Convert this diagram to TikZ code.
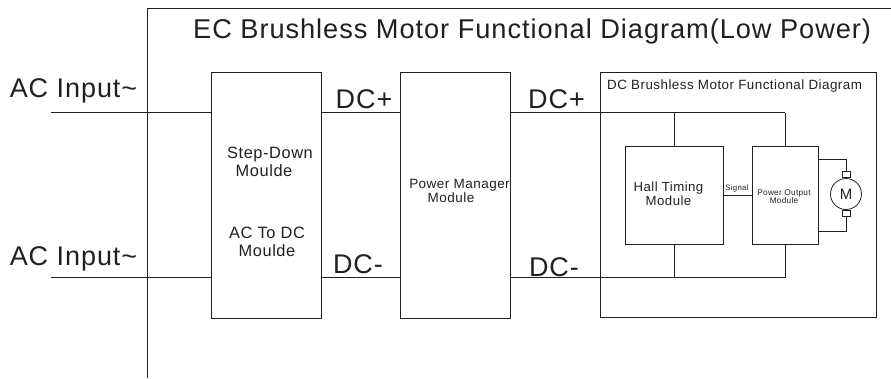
\documentclass[tikz,border=0pt]{standalone}
\usepackage{fontspec}
\setmainfont[LetterSpace=3.5]{Liberation Sans}
\usepackage{xcolor}
\definecolor{inkgray}{HTML}{231F20}
\tikzset{
    modbox/.style={draw=inkgray,line width=0.8pt,minimum width=#1,inner sep=0pt},
    wire/.style={draw=inkgray,line width=0.8pt},
    biglabel/.style={text=inkgray,font=\fontsize{27}{27}\selectfont,inner sep=0pt,anchor=base},
    modlabel/.style={text=inkgray,align=center,font=\fontsize{16.4}{18.5}\selectfont,inner sep=0pt}
}

\begin{document}
\begin{tikzpicture}[x=1pt,y=-1pt]
    \useasboundingbox (0,0) rectangle (891,378);

    % Outer frame, open on the right and at the bottom
    \coordinate (frametop) at (147.5,8.5);
    \coordinate (framebot) at (147.5,378);
    \coordinate (frameend) at (891,8.5);
    \draw[wire] (framebot) -- (frametop) -- (frameend);
    \node[biglabel,anchor=base west,font=\fontsize{27.2}{27.2}\selectfont] (title) at (193,38) {EC Brushless Motor Functional Diagram(Low Power)};

    % Rails
    \coordinate (railp) at (51,112.5);
    \coordinate (railn) at (51,277.5);

    % Modules
    \node[modbox=109.5pt,minimum height=246pt] (stepdown) at (266.5,195) {};
    \node[modbox=110pt,minimum height=246pt] (manager) at (455,195) {};
    \node[modbox=276pt,minimum height=245pt] (dcmotor) at (738,194.5) {};
    \node[modbox=98pt,minimum height=98pt] (hall) at (674,195) {};
    \node[modbox=66pt,minimum height=98pt] (output) at (785,195) {};

    % Module texts
    \node[modlabel] (stepdowntext) at (270,162) {Step-Down\\Moulde\hspace*{12pt}};
    \node[modlabel] (actodctext) at (267,242) {AC To DC\\Moulde};
    \node[modlabel,font=\fontsize{13.5}{14.7}\selectfont] (managertext) at (459.5,191) {Power Manager\\Module\hspace*{17pt}};
    \node[modlabel,font=\fontsize{13.4}{13.4}\selectfont,anchor=base west] (dctitle) at (607,89.5) {DC Brushless Motor Functional Diagram};
    \node[modlabel,font=\fontsize{13.2}{14}\selectfont] (halltext) at (668.5,194) {Hall Timing\\Module};
    \node[modlabel,font=\fontsize{8.25}{8}\selectfont] (outputtext) at (784,197) {Power Output\\Module};
    \node[modlabel,font=\fontsize{7.8}{7.8}\selectfont,anchor=base] (signaltext) at (737,190) {Signal};

    % Input and rail labels
    \node[biglabel] (acone) at (73.5,97.5) {AC Input\textasciitilde};
    \node[biglabel] (actwo) at (73.5,265) {AC Input\textasciitilde};
    \node[biglabel] (dcpone) at (364,108) {DC+};
    \node[biglabel] (dcntwo) at (358,273) {DC-};
    \node[biglabel] (dcpthree) at (556.5,108) {DC+};
    \node[biglabel] (dcnfour) at (554,276) {DC-};

    % Lines between modules
    \foreach \rail in {railp,railn} {
        \draw[wire] (\rail) -- (stepdown.west |- \rail);
        \draw[wire] (stepdown.east |- \rail) -- (manager.west |- \rail);
        \draw[wire] (manager.east |- \rail) -- (output.north |- \rail);
    }
    \draw[wire] (hall.north) -- (hall.north |- railp);
    \draw[wire] (output.north) -- (output.north |- railp);
    \draw[wire] (hall.south) -- (hall.south |- railn);
    \draw[wire] (output.south) -- (output.south |- railn);
    \draw[wire] (hall.east) -- (output.west);

    % Motor
    \node[draw=inkgray,line width=0.8pt,circle,minimum size=31pt,inner sep=0pt,text=inkgray,font=\fontsize{15}{15}\selectfont] (motor) at (846,194) {M};
    \node[draw=inkgray,line width=0.8pt,minimum width=8pt,minimum height=6pt,inner sep=0pt,anchor=south] (brushtop) at (motor.north) {};
    \node[draw=inkgray,line width=0.8pt,minimum width=8pt,minimum height=6pt,inner sep=0pt,anchor=north] (brushbot) at (motor.south) {};
    \coordinate (tapone) at (818,159);
    \coordinate (taptwo) at (818,231);
    \draw[wire] (output.east |- tapone) -- (brushtop.north |- tapone) -- (brushtop.north);
    \draw[wire] (output.east |- taptwo) -- (brushbot.south |- taptwo) -- (brushbot.south);
\end{tikzpicture}
\end{document}
